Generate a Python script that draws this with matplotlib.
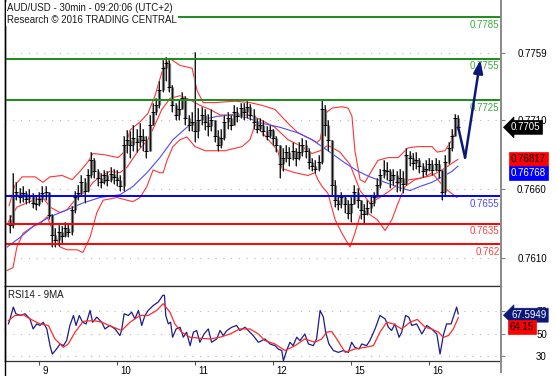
import numpy as np
import matplotlib
matplotlib.use("Agg")
import matplotlib.pyplot as plt
from matplotlib import transforms
from matplotlib.lines import Line2D

plt.rcParams['font.family'] = ['Liberation Sans', 'DejaVu Sans']
plt.rcParams['font.size'] = 7

W, H = 557, 376

# hourly candles, open = previous close
first_open = 0.7638
closes = [0.7634, 0.7656, 0.7658, 0.7654, 0.7657, 0.7653, 0.7655, 0.7650, 0.7649, 0.7653,
          0.7657, 0.7658, 0.7641, 0.7627, 0.7623, 0.7629, 0.7626, 0.7632, 0.7629, 0.7645,
          0.7654, 0.7657, 0.7665, 0.7659, 0.7670, 0.7681, 0.7673, 0.7668, 0.7665, 0.7670,
          0.7667, 0.7671, 0.7669, 0.7667, 0.7662, 0.7692, 0.7696, 0.7692, 0.7697, 0.7694,
          0.7699, 0.7696, 0.7688, 0.7707, 0.7716, 0.7721, 0.7732, 0.7748, 0.7752, 0.7734,
          0.7721, 0.7714, 0.7718, 0.7726, 0.7712, 0.7707, 0.7709, 0.7702, 0.7710, 0.7714,
          0.7709, 0.7706, 0.7710, 0.7699, 0.7692, 0.7697, 0.7709, 0.7712, 0.7707, 0.7716,
          0.7713, 0.7719, 0.7716, 0.7720, 0.7714, 0.7709, 0.7704, 0.7707, 0.7702, 0.7699,
          0.7703, 0.7697, 0.7692, 0.7678, 0.7683, 0.7687, 0.7683, 0.7688, 0.7683, 0.7687,
          0.7692, 0.7688, 0.7680, 0.7677, 0.7675, 0.7680, 0.7718, 0.7707, 0.7696, 0.7663,
          0.7652, 0.7649, 0.7654, 0.7649, 0.7643, 0.7649, 0.7658, 0.7652, 0.7645, 0.7642,
          0.7646, 0.7650, 0.7654, 0.7663, 0.7670, 0.7674, 0.7673, 0.7667, 0.7670, 0.7665,
          0.7668, 0.7664, 0.7685, 0.7683, 0.7679, 0.7681, 0.7677, 0.7673, 0.7675, 0.7678,
          0.7674, 0.7678, 0.7674, 0.7658, 0.7680, 0.7690, 0.7699, 0.7712, 0.7705]
highs = [0.7641, 0.7672, 0.7665, 0.7661, 0.7662, 0.7659, 0.7660, 0.7657, 0.7655, 0.7658,
         0.7662, 0.7662, 0.7658, 0.7642, 0.7632, 0.7634, 0.7633, 0.7636, 0.7635, 0.7648,
         0.7659, 0.7663, 0.7670, 0.7668, 0.7675, 0.7687, 0.7683, 0.7675, 0.7672, 0.7674,
         0.7673, 0.7676, 0.7675, 0.7674, 0.7670, 0.7699, 0.7703, 0.7702, 0.7707, 0.7704,
         0.7708, 0.7704, 0.7699, 0.7714, 0.7723, 0.7726, 0.7739, 0.7754, 0.7756, 0.7754,
         0.7736, 0.7723, 0.7725, 0.7731, 0.7728, 0.7714, 0.7716, 0.7760, 0.7719, 0.7720,
         0.7718, 0.7715, 0.7718, 0.7710, 0.7703, 0.7704, 0.7714, 0.7716, 0.7714, 0.7721,
         0.7720, 0.7723, 0.7723, 0.7724, 0.7722, 0.7718, 0.7712, 0.7712, 0.7710, 0.7706,
         0.7707, 0.7704, 0.7699, 0.7692, 0.7690, 0.7692, 0.7691, 0.7694, 0.7690, 0.7694,
         0.7697, 0.7696, 0.7690, 0.7683, 0.7681, 0.7685, 0.7725, 0.7721, 0.7710, 0.7696,
         0.7667, 0.7656, 0.7658, 0.7655, 0.7652, 0.7654, 0.7663, 0.7661, 0.7652, 0.7649,
         0.7652, 0.7655, 0.7658, 0.7668, 0.7675, 0.7681, 0.7680, 0.7675, 0.7675, 0.7673,
         0.7675, 0.7673, 0.7690, 0.7688, 0.7686, 0.7687, 0.7683, 0.7679, 0.7681, 0.7683,
         0.7681, 0.7683, 0.7681, 0.7674, 0.7685, 0.7694, 0.7704, 0.7715, 0.7714]
lows = [0.7628, 0.7632, 0.7652, 0.7650, 0.7651, 0.7649, 0.7650, 0.7646, 0.7645, 0.7648,
        0.7651, 0.7652, 0.7638, 0.7618, 0.7618, 0.7619, 0.7621, 0.7625, 0.7625, 0.7627,
        0.7643, 0.7652, 0.7656, 0.7650, 0.7658, 0.7668, 0.7668, 0.7662, 0.7661, 0.7664,
        0.7662, 0.7665, 0.7664, 0.7662, 0.7659, 0.7659, 0.7686, 0.7683, 0.7688, 0.7687,
        0.7691, 0.7688, 0.7683, 0.7688, 0.7707, 0.7714, 0.7719, 0.7731, 0.7739, 0.7731,
        0.7716, 0.7710, 0.7710, 0.7718, 0.7707, 0.7702, 0.7702, 0.7694, 0.7697, 0.7707,
        0.7703, 0.7699, 0.7702, 0.7694, 0.7688, 0.7690, 0.7696, 0.7704, 0.7703, 0.7707,
        0.7709, 0.7712, 0.7710, 0.7712, 0.7710, 0.7704, 0.7701, 0.7702, 0.7699, 0.7696,
        0.7697, 0.7692, 0.7687, 0.7668, 0.7673, 0.7680, 0.7677, 0.7681, 0.7677, 0.7681,
        0.7684, 0.7683, 0.7675, 0.7673, 0.7672, 0.7673, 0.7678, 0.7699, 0.7688, 0.7656,
        0.7647, 0.7645, 0.7646, 0.7643, 0.7638, 0.7636, 0.7649, 0.7646, 0.7638, 0.7635,
        0.7641, 0.7643, 0.7648, 0.7654, 0.7661, 0.7668, 0.7667, 0.7661, 0.7663, 0.7658,
        0.7659, 0.7657, 0.7663, 0.7677, 0.7674, 0.7675, 0.7672, 0.7669, 0.7670, 0.7673,
        0.7670, 0.7673, 0.7668, 0.7652, 0.7656, 0.7678, 0.7688, 0.7699, 0.7703]
start_hour = -9  # first candle, hours from 9 Aug 00:00

# bollinger bands (red) and long moving average (blue): (hour, price)
upper_h = [-9.2, -7.4, -5.2, -1.2, 1.2, 3.4, 7.1, 10.2, 12.6, 15.1, 16.6, 20.3, 24.3, 26.2, 28.0,
           31.1, 33.5, 35.7, 37.8, 40.3, 43.4, 47.1, 48.6, 50.5, 54.2, 60.3, 64.9, 68.6, 72.6, 76.6,
           79.7, 84.0, 85.5, 86.5, 88.0, 90.2, 93.2, 95.1, 96.3, 97.2, 98.8, 100.3, 102.5, 104.3,
           107.4, 110.5, 113.5, 116.6, 120.9, 122.5, 124.9, 127.1, 128.9]
upper_p = [0.7648, 0.7663, 0.7669, 0.7669, 0.7665, 0.7669, 0.7670, 0.7667, 0.7673, 0.7680,
           0.7686, 0.7685, 0.7683, 0.7687, 0.7703, 0.7709, 0.7715, 0.7728, 0.7745, 0.7755,
           0.7750, 0.7748, 0.7732, 0.7723, 0.7723, 0.7724, 0.7723, 0.7721, 0.7718, 0.7708,
           0.7701, 0.7696, 0.7694, 0.7696, 0.7715, 0.7719, 0.7720, 0.7719, 0.7713, 0.7688,
           0.7667, 0.7665, 0.7674, 0.7681, 0.7683, 0.7683, 0.7690, 0.7691, 0.7691, 0.7687,
           0.7688, 0.7696, 0.7707]
mid_h = [-9.5, -6.8, -1.8, 1.2, 3.4, 6.5, 8.6, 11.7, 14.8, 16.6, 18.8, 21.8, 24.9, 27.1, 30.5,
         33.5, 35.7, 37.8, 40.3, 43.4, 46.5, 49.5, 52.6, 55.7, 60.3, 64.9, 68.6, 72.6, 76.6, 80.9,
         84.0, 86.5, 88.9, 92.6, 95.7, 98.8, 101.8, 104.9, 108.0, 111.1, 114.2, 117.2, 120.9,
         124.0, 128.9]
mid_p = [0.7636, 0.7647, 0.7652, 0.7654, 0.7647, 0.7643, 0.7645, 0.7654, 0.7659, 0.7665,
         0.7669, 0.7673, 0.7672, 0.7676, 0.7688, 0.7696, 0.7707, 0.7718, 0.7726, 0.7728,
         0.7725, 0.7721, 0.7718, 0.7714, 0.7714, 0.7714, 0.7710, 0.7705, 0.7696, 0.7691,
         0.7686, 0.7688, 0.7692, 0.7687, 0.7678, 0.7659, 0.7650, 0.7654, 0.7659, 0.7665,
         0.7667, 0.7668, 0.7670, 0.7674, 0.76817]
lower_h = [-9.8, -8.0, -6.8, -4.9, -1.8, 0.3, 2.5, 4.3, 6.5, 8.6, 11.7, 13.5, 15.7, 17.8, 19.7,
           24.0, 27.1, 28.9, 31.1, 33.2, 35.1, 37.2, 38.2, 39.4, 41.2, 43.4, 45.5, 48.0, 51.1, 54.2,
           57.2, 62.5, 64.9, 66.5, 69.5, 73.5, 74.8, 78.8, 82.8, 84.9, 85.8, 87.1, 88.9, 91.1, 93.2,
           95.7, 97.2, 98.8, 100.9, 104.0, 106.5, 108.6, 110.5, 112.6, 115.7, 118.8, 120.9, 123.4,
           125.8, 128.6]
lower_p = [0.7601, 0.7603, 0.7618, 0.7628, 0.7633, 0.7635, 0.7640, 0.7630, 0.7618, 0.7616,
           0.7616, 0.7614, 0.7625, 0.7643, 0.7652, 0.7654, 0.7652, 0.7651, 0.7654, 0.7662,
           0.7674, 0.7672, 0.7672, 0.7681, 0.7691, 0.7696, 0.7698, 0.7691, 0.7688, 0.7688,
           0.7688, 0.7691, 0.7696, 0.7707, 0.7699, 0.7688, 0.7675, 0.7672, 0.7670, 0.7672,
           0.7667, 0.7662, 0.7657, 0.7638, 0.7628, 0.7618, 0.7628, 0.7641, 0.7643, 0.7638,
           0.7630, 0.7638, 0.7650, 0.7662, 0.7667, 0.7669, 0.7672, 0.7665, 0.7659, 0.7654]
ma_h = [-9.8, -5.8, -1.8, 3.4, 8.6, 13.5, 18.8, 24.9, 28.9, 33.2, 37.2, 41.2, 45.5, 49.5, 54.8,
        59.7, 64.0, 68.6, 74.2, 79.7, 84.0, 88.9, 94.2, 98.2, 101.8, 106.5, 111.1, 114.2, 117.2,
        120.9, 124.0, 127.1, 128.9]
ma_p = [0.7618, 0.7625, 0.7633, 0.7640, 0.7645, 0.7650, 0.7654, 0.7656, 0.7662, 0.7672,
        0.7683, 0.7696, 0.7705, 0.7710, 0.7713, 0.7714, 0.7712, 0.7708, 0.7705, 0.7701,
        0.7696, 0.7688, 0.7679, 0.7673, 0.7669, 0.7665, 0.7661, 0.7659, 0.7662, 0.7665,
        0.7669, 0.7673, 0.76768]

# support / resistance levels
levels = [0.7785, 0.7755, 0.7725, 0.7655, 0.7635, 0.762]
level_labels = ['0.7785', '0.7755', '0.7725', '0.7655', '0.7635', '0.762']
level_kind = ['res', 'res', 'res', 'pivot', 'sup', 'sup']
# projected path (hour, price)
proj_h = [129.0, 131.1, 135.8]
proj_p = [0.7705, 0.7683, 0.7754]

# RSI14 and its 9 period MA: (hour, value)
rsi_h = [-9.4, -8.9, -7.9, -7.1, -5.8, -4.3, -2.8, -1.8, -0.7, 0.3, 1.3, 2.4, 3.4, 4.1, 5.4,
         6.5, 7.5, 8.5, 9.5, 10.6, 11.4, 12.4, 13.4, 14.5, 15.7, 16.5, 17.8, 19.3, 20.3, 21.8,
         23.4, 24.9, 25.4, 26.2, 27.5, 28.5, 29.5, 30.6, 31.6, 32.6, 33.6, 35.2, 36.7, 38.1, 38.6,
         39.0, 39.8, 40.5, 41.1, 42.2, 43.4, 44.4, 45.4, 46.5, 47.5, 48.5, 49.5, 50.8, 52.1, 53.1,
         54.7, 55.7, 56.7, 57.8, 59.3, 60.8, 61.8, 63.4, 64.4, 65.9, 67.5, 68.0, 69.5, 71.1, 72.6,
         73.6, 74.7, 75.2, 76.2, 77.2, 78.2, 79.3, 80.3, 81.8, 82.9, 84.4, 85.4, 86.5, 87.5, 88.2,
         89.2, 90.6, 92.1, 93.6, 95.2, 96.2, 97.2, 98.5, 99.3, 100.8, 101.8, 103.4, 104.9, 106.5,
         107.5, 108.5, 109.5, 110.8, 111.6, 112.8, 113.8, 114.7, 116.2, 117.8, 119.3, 120.8,
         122.4, 123.4, 124.4, 125.4, 126.8, 128.0, 128.5, 129.0]
rsi_v = [58.6, 63.1, 73.6, 67.6, 66.1, 67.6, 63.1, 54.1, 58.6, 57.2, 60.1, 54.1, 39.2, 31.7, 36.2,
         40.7, 39.2, 43.7, 57.2, 66.1, 57.2, 66.1, 60.1, 58.6, 70.6, 60.1, 64.6, 60.1, 54.1, 57.2,
         54.1, 48.2, 52.7, 67.6, 66.1, 69.1, 63.1, 70.6, 57.2, 66.1, 70.6, 75.1, 78.1, 84.1, 84.1,
         66.1, 58.6, 60.1, 46.7, 54.1, 55.6, 46.7, 51.2, 39.2, 51.2, 52.7, 42.2, 49.6, 54.1, 42.2,
         45.2, 52.7, 48.2, 52.7, 55.6, 57.2, 52.7, 55.6, 52.7, 48.2, 42.2, 42.8, 45.2, 40.7, 39.2,
         36.2, 34.8, 25.8, 34.8, 42.2, 39.2, 46.7, 43.7, 49.6, 40.7, 39.2, 45.2, 70.6, 64.6, 51.2,
         40.7, 34.8, 33.2, 34.8, 33.2, 42.2, 37.7, 36.2, 40.7, 39.2, 43.7, 54.1, 66.1, 63.1,
         55.6, 52.7, 58.6, 46.7, 51.2, 66.1, 64.6, 57.2, 58.6, 49.6, 57.2, 54.1,
         49.6, 31.7, 48.2, 58.6, 58.6, 69.1, 73.6, 67.5949]
rsi_ma_h = [-9.4, -7.4, -4.8, -2.8, 0.3, 2.9, 4.9, 7.5, 9.0, 11.1, 13.6, 16.7, 19.3, 22.9, 25.4,
            28.0, 31.1, 33.6, 36.2, 38.2, 40.3, 41.8, 43.9, 46.5, 49.5, 52.6, 55.7, 58.8, 61.8,
            64.9, 67.5, 69.5, 72.6, 75.7, 78.8, 81.8, 84.9, 87.0, 88.5, 90.1, 91.6, 94.2, 97.2,
            100.3, 102.9, 104.9, 107.0, 109.0, 111.6, 114.2, 116.4, 118.8, 120.8, 122.9, 124.4,
            126.0, 127.5, 129.0]
rsi_ma_v = [61.6, 66.1, 66.7, 63.1, 58.6, 57.2, 45.2, 37.7, 40.7, 51.2, 60.8, 61.6, 60.1, 55.6,
            52.7, 60.1, 66.1, 66.1, 70.6, 76.6, 69.1, 58.6, 51.2, 46.7, 45.8, 45.2, 46.7, 49.6,
            54.1, 54.1, 49.6, 43.7, 40.7, 34.8, 39.2, 45.2, 42.2, 45.2, 51.2, 51.8, 45.2, 33.2,
            36.2, 37.7, 39.2, 51.2, 60.1, 58.6, 54.1, 60.1, 62.6, 55.6, 54.1, 51.2, 46.7, 48.2,
            54.1, 64.15]

day_hours = [0, 24, 48, 72, 96, 120]
day_labels = ['9', '10', '11', '12', '15', '16']
price_ticks = [0.7610, 0.7660, 0.7710, 0.7759]
rsi_ticks = [30, 50, 70]

# ---- figure ----
fig = plt.figure(figsize=(W / 100, H / 100), dpi=100)
L, R = 5, 501
ax = fig.add_axes([L / W, 90 / H, (R - L) / W, 286 / H])
ax_rsi = fig.add_axes([L / W, 15 / H, (R - L) / W, 75 / H])

px_per_hour = 3.25
x0_px = 39  # pixel of 9 Aug 00:00
xlim = ((L - x0_px) / px_per_hour, (R - x0_px) / px_per_hour)

# candles
hours = np.arange(len(closes)) + start_hour
opens = [first_open] + closes[:-1]
ax.vlines(hours, lows, highs, color='#8a8a8a', lw=1.2, zorder=3)
ax.vlines(hours, np.minimum(opens, closes), np.maximum(opens, closes),
          color='#7a7a7a', lw=2.3, zorder=3)
ax.vlines(hours, lows, highs, color='black', lw=0.6, zorder=4)
ax.plot(hours, closes, '_', color='black', ms=2.8, mew=0.7, zorder=4)

# bands
band_col = '#ff3333'
ax.plot(upper_h, upper_p, color=band_col, lw=0.8, zorder=2)
ax.plot(mid_h, mid_p, color=band_col, lw=0.8, zorder=2)
ax.plot(lower_h, lower_p, color=band_col, lw=0.8, zorder=2)
ax.plot(ma_h, ma_p, color='#4a4aff', lw=0.8, zorder=2)

# levels
line_col = {'res': '#1a8c1a', 'pivot': '#0000ff', 'sup': '#ff0000'}
text_col = {'res': '#3daa3d', 'pivot': '#4b4bff', 'sup': '#ff4040'}
for lv, lab, kind in zip(levels, level_labels, level_kind):
    ax.axhline(lv, color=line_col[kind], lw=1.4, zorder=5)
    ax.annotate(lab, xy=(1, lv), xycoords=ax.get_yaxis_transform(),
                xytext=(-1, -2), textcoords='offset points',
                ha='right', va='top', color=text_col[kind], fontsize=7, zorder=6)

# projection arrow
navy = '#0c1878'
ax.plot(proj_h[:2], proj_p[:2], color=navy, lw=1.8, solid_capstyle='round', zorder=7)
ax.annotate('', xy=(proj_h[2], proj_p[2]), xytext=(proj_h[1], proj_p[1]),
            arrowprops=dict(arrowstyle='-|>,head_length=1.1,head_width=0.4',
                            color=navy, lw=1.8, shrinkA=0, shrinkB=0), zorder=7)

ax.set_xlim(*xlim)
ax.set_ylim(0.758964, 0.779758)
ax.set_xticks([])
ax.yaxis.tick_right()
ax.set_yticks(price_ticks)
ax.set_yticklabels(['%.4f' % t for t in price_ticks])
ax.tick_params(axis='y', direction='out', length=3, width=0.8, color='#808080',
               pad=30, labelsize=7)
for t in ax.get_yticklabels():
    t.set_horizontalalignment('right')
ax.grid(axis='y', linestyle=(0, (1, 6)), color='#b8b8b8', lw=0.8)

# RSI panel
ax_rsi.plot(rsi_h, rsi_v, color='#1c1c8c', lw=0.9, zorder=3)
ax_rsi.plot(rsi_ma_h, rsi_ma_v, color='#ff2a2a', lw=0.9, zorder=3)
ax_rsi.set_xlim(*xlim)
ax_rsi.set_ylim(25.5, 92.4)
ax_rsi.yaxis.tick_right()
ax_rsi.set_yticks(rsi_ticks)
ax_rsi.set_yticklabels([str(t) for t in rsi_ticks])
ax_rsi.tick_params(axis='y', direction='out', length=3, width=0.8, color='#808080',
                   pad=30, labelsize=7)
for t in ax_rsi.get_yticklabels():
    t.set_horizontalalignment('right')
ax_rsi.set_xticks(day_hours)
ax_rsi.set_xticklabels(day_labels)
ax_rsi.tick_params(axis='x', direction='out', length=3, width=0.8, color='#555555',
                   pad=0.5, labelsize=7)
shift = transforms.ScaledTranslation(3 / 100, 0, fig.dpi_scale_trans)
for t in ax_rsi.get_xticklabels():
    t.set_horizontalalignment('left')
    t.set_transform(t.get_transform() + shift)
ax_rsi.grid(axis='y', linestyle=(0, (1, 6)), color='#b8b8b8', lw=0.8)

for a in (ax, ax_rsi):
    a.spines['left'].set_color('black')
    a.spines['left'].set_linewidth(1.0)
    a.spines['right'].set_color('#8c8c8c')
    a.spines['right'].set_linewidth(1.4)
    a.spines['top'].set_visible(False)
    a.spines['bottom'].set_color('#333333')
    a.spines['bottom'].set_linewidth(0.9)
ax_rsi.spines['top'].set_visible(True)
ax_rsi.spines['top'].set_color('#333333')
ax_rsi.spines['top'].set_linewidth(0.9)

# axis line and frame continued over the full height
fig.add_artist(Line2D([R / W, R / W], [4 / H, 1], color='#8c8c8c', lw=1.4))
fig.add_artist(Line2D([L / W, L / W], [0, 1], color='black', lw=1.0))


def tag(axis, value, label, face, color, x_px, dy=0, arrow=False):
    trans = transforms.blended_transform_factory(fig.transFigure, axis.transData)
    style = 'larrow,pad=0.2' if arrow else 'square,pad=0.2'
    axis.annotate(label, xy=(x_px / W, value), xycoords=trans,
                  xytext=(0, dy), textcoords='offset points',
                  ha='left', va='center', color=color, fontsize=7,
                  bbox=dict(boxstyle=style, fc=face, ec=face, lw=0.5),
                  annotation_clip=False, zorder=10)


tag(ax, closes[-1], '%.4f' % closes[-1], 'black', 'white', 511, arrow=True)
tag(ax, mid_p[-1], '%.5f' % mid_p[-1], '#ff0000', 'black', 511)
tag(ax, ma_p[-1], '%.5f' % ma_p[-1], '#0000ff', 'white', 511, dy=-5.2)
tag(ax_rsi, rsi_v[-1], '%.4f' % rsi_v[-1], '#0c1878', 'white', 511, dy=-1, arrow=True)
tag(ax_rsi, rsi_ma_v[-1], '%.2f' % rsi_ma_v[-1], '#ff0000', 'black', 510, dy=-7)

# titles
box = dict(boxstyle='square,pad=0.1', fc='white', ec='none')
fig.text(7 / W, 1 - 8.3 / H, 'AUD/USD - 30min - 09:20:06 (UTC+2)', va='center',
         fontsize=7, color='#1a1a1a', bbox=box, zorder=20)
fig.text(7 / W, 1 - 20 / H, 'Research \u00a9 2016 TRADING CENTRAL', va='center',
         fontsize=7, color='#1a1a1a', bbox=box, zorder=20)
fig.text(8 / W, 1 - 295 / H, 'RSI14 - 9MA', va='center', fontsize=7, color='#1a1a1a')

fig.savefig('out.png', dpi=100)
